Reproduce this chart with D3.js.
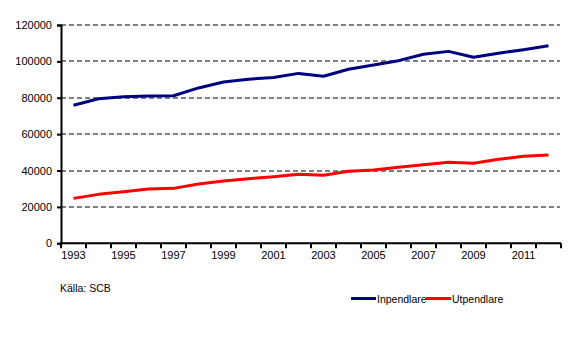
<!DOCTYPE html>
<html><head><meta charset="utf-8">
<script src="https://cdn.jsdelivr.net/npm/d3@7"></script>
<style>body{margin:0;background:#fff}svg{display:block;font-family:Arial,"Liberation Sans",sans-serif}</style>
</head><body><svg id="c" width="577" height="347"></svg>
<script>
const years = [1993,1994,1995,1996,1997,1998,1999,2000,2001,2002,2003,2004,2005,2006,2007,2008,2009,2010,2011,2012];
const inpendlare = [75900,79500,80600,81000,81100,85400,88700,90200,91100,93400,91800,95700,98000,100400,103900,105500,102300,104500,106400,108600];
const utpendlare = [24700,26900,28400,29800,30200,32600,34200,35500,36600,37900,37400,39600,40300,41800,43200,44500,44000,46200,47800,48500];
const yTicks = [0,20000,40000,60000,80000,100000,120000];
const seriesNames = ["Inpendlare","Utpendlare"];
const seriesColors = ["#000080","#ff0000"];

const svg = d3.select("#c");
const L=61, R=561, T=25, B=243.3;
const x = d3.scaleBand().domain(years).range([L,R]).padding(0);
const y = d3.scaleLinear().domain([0,120000]).range([B,T]);

// gridlines
svg.append("g").selectAll("line").data(yTicks.filter(d=>d>0)).join("line")
  .attr("x1",L).attr("x2",R-1).attr("y1",d=>Math.round(y(d))).attr("y2",d=>Math.round(y(d)))
  .attr("stroke","#808080").attr("stroke-width",2).attr("stroke-dasharray","5,3");

// y axis
const ya = svg.append("g").attr("transform",`translate(${L},0)`)
  .call(d3.axisLeft(y).tickValues(yTicks).tickSize(4).tickPadding(5).tickFormat(d3.format("d")));
ya.select(".domain").attr("stroke","#000").attr("stroke-width",2);
ya.selectAll(".tick line").attr("stroke","#000").attr("stroke-width",2);
ya.selectAll("text").attr("font-size",11).attr("font-family","Arial,'Liberation Sans',sans-serif").attr("fill","#000");

// x axis: ticks at band boundaries
const xa = svg.append("g").attr("transform",`translate(0,${B})`);
xa.append("line").attr("x1",L-1).attr("x2",R).attr("y1",0).attr("y2",0).attr("stroke","#000").attr("stroke-width",2);
const bounds = years.map(d=>x(d)).concat([x(years[years.length-1])+x.bandwidth()]);
xa.selectAll("line.t").data(bounds).join("line").attr("class","t")
  .attr("x1",d=>d).attr("x2",d=>d).attr("y1",0).attr("y2",5).attr("stroke","#000").attr("stroke-width",2);
xa.selectAll("text").data(years.filter((d,i)=>i%2===0)).join("text")
  .attr("x",d=>x(d)+x.bandwidth()/2).attr("y",16).attr("text-anchor","middle")
  .attr("font-size",11).attr("fill","#000").text(d=>d);

// lines
const line = d3.line().x((d,i)=>x(years[i])+x.bandwidth()/2).y(d=>y(d));
[inpendlare,utpendlare].forEach((s,k)=>{
  svg.append("path").datum(s).attr("d",line).attr("fill","none")
    .attr("stroke",seriesColors[k]).attr("stroke-width",3).attr("stroke-linejoin","round");
});

// source
svg.append("text").attr("x",60).attr("y",292).attr("font-size",10.5).attr("fill","#000").text("Källa:  SCB");

// legend
const lg = svg.append("g");
const lx=[351,426];
seriesNames.forEach((n,k)=>{
  lg.append("line").attr("x1",lx[k]).attr("x2",lx[k]+25).attr("y1",298.5).attr("y2",298.5)
    .attr("stroke",seriesColors[k]).attr("stroke-width",3);
  lg.append("text").attr("x",lx[k]+26).attr("y",302.5).attr("font-size",10.5).attr("fill","#000").text(n);
});
</script></body></html>
